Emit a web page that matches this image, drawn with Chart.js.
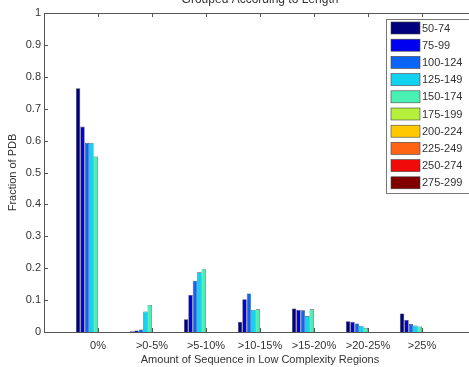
<!DOCTYPE html>
<html>
<head>
<meta charset="utf-8">
<script src="https://cdn.jsdelivr.net/npm/chart.js@4.4.1/dist/chart.umd.min.js"></script>
<style>
  html, body { margin: 0; padding: 0; background: #fff; overflow: hidden; }
  #wrap { position: relative; width: 469px; height: 367px; overflow: hidden; }
</style>
</head>
<body>
<div id="wrap"><canvas id="myChart" width="484" height="367"></canvas></div>
<script>
// categories along x
var categories = ['0%', '>0-5%', '>5-10%', '>10-15%', '>15-20%', '>20-25%', '>25%'];
var lengthGroups = ['50-74', '75-99', '100-124', '125-149', '150-174', '175-199', '200-224', '225-249', '250-274', '275-299'];
var groupColors = ['#00007f', '#0000f0', '#0a64f5', '#12d2f0', '#48f0b4', '#b4f03c', '#ffc800', '#ff6414', '#f00a0a', '#800000'];

// fraction of PDB per length group
var len50 = [0.764, 0.002, 0.040, 0.032, 0.074, 0.034, 0.058];
var len75 = [0.644, 0.005, 0.116, 0.103, 0.069, 0.032, 0.038];
var len100 = [0.593, 0.008, 0.161, 0.121, 0.068, 0.027, 0.025];
var len125 = [0.593, 0.064, 0.187, 0.069, 0.050, 0.019, 0.020];
var len150 = [0.550, 0.085, 0.197, 0.071, 0.071, 0.013, 0.017];
var len175 = [0, 0, 0, 0, 0, 0, 0];
var len200 = [0, 0, 0, 0, 0, 0, 0];
var len225 = [0, 0, 0, 0, 0, 0, 0];
var len250 = [0, 0, 0, 0, 0, 0, 0];
var len275 = [0, 0, 0, 0, 0, 0, 0];
var seriesValues = [len50, len75, len100, len125, len150, len175, len200, len225, len250, len275];

var yTicks = [0, 0.1, 0.2, 0.3, 0.4, 0.5, 0.6, 0.7, 0.8, 0.9, 1];

// empty slot on each side so the axis runs 0..8 like the original
var labels = [''].concat(categories, ['']);

var datasets = seriesValues.map(function(vals, i) {
    return {
        label: lengthGroups[i],
        data: [null].concat(vals, [null]),
        backgroundColor: groupColors[i],
        borderColor: 'rgba(20,20,40,0.8)',
        borderWidth: function(c) { return c.raw ? 0.6 : 0; },
        categoryPercentage: 0.82,
        barPercentage: 1
    };
});

var textColor = '#333';
var fontFamily = '"Liberation Sans", Arial, Helvetica, sans-serif';

var matlabBox = {
    id: 'matlabBox',
    afterDraw: function(chart) {
        var ctx = chart.ctx;
        var a = chart.chartArea;
        var xs = chart.scales.x, ys = chart.scales.y;
        ctx.save();
        ctx.strokeStyle = '#555';
        ctx.lineWidth = 1;
        // top border
        ctx.beginPath();
        ctx.moveTo(a.left, a.top + 0.5);
        ctx.lineTo(a.right, a.top + 0.5);
        ctx.stroke();
        // inward ticks
        ctx.beginPath();
        for (var i = 0; i < labels.length; i++) {
            var px = Math.round(xs.getPixelForValue(i)) + 0.5;
            ctx.moveTo(px, a.top);
            ctx.lineTo(px, a.top + 4);
            ctx.moveTo(px, a.bottom);
            ctx.lineTo(px, a.bottom - 4);
        }
        yTicks.forEach(function(v) {
            var py = Math.round(ys.getPixelForValue(v)) + 0.5;
            ctx.moveTo(a.left, py);
            ctx.lineTo(a.left + 4, py);
        });
        ctx.stroke();

        // title (partly off the top, as in the reference)
        ctx.fillStyle = textColor;
        ctx.textAlign = 'center';
        ctx.textBaseline = 'middle';
        ctx.font = '12px ' + fontFamily;
        ctx.fillText('Grouped According to Length', (a.left + a.right) / 2, 0);

        // axis titles
        ctx.font = '11px ' + fontFamily;
        ctx.fillText('Amount of Sequence in Low Complexity Regions', (a.left + a.right) / 2, 360);
        ctx.translate(13, (a.top + a.bottom) / 2);
        ctx.rotate(-Math.PI / 2);
        ctx.fillText('Fraction of PDB', 0, 0);
        ctx.restore();

        // legend box
        ctx.save();
        var lx = 386, ly = 19, lw = 120, lh = 174;
        ctx.fillStyle = '#fff';
        ctx.fillRect(lx, ly, lw, lh);
        ctx.strokeStyle = '#777';
        ctx.lineWidth = 1;
        ctx.strokeRect(lx + 0.5, ly + 0.5, lw, lh);
        ctx.font = '11px ' + fontFamily;
        ctx.textAlign = 'left';
        ctx.textBaseline = 'middle';
        chart.data.datasets.forEach(function(ds, i) {
            var sy = 22 + i * 17.2;
            ctx.fillStyle = ds.backgroundColor;
            ctx.fillRect(391, sy, 29, 12);
            ctx.strokeStyle = '#444';
            ctx.lineWidth = 0.6;
            ctx.strokeRect(391, sy, 29, 12);
            ctx.fillStyle = textColor;
            ctx.fillText(ds.label, 422, sy + 6.5);
        });
        ctx.restore();
    }
};

var ctx = document.getElementById('myChart');
var myChart = new Chart(ctx, {
    type: 'bar',
    data: {
        labels: labels,
        datasets: datasets
    },
    options: {
        responsive: false,
        animation: false,
        layout: { padding: { left: 0, top: 13, right: 8, bottom: 0 } },
        plugins: {
            legend: { display: false },
            title: { display: false },
            tooltip: { enabled: false }
        },
        scales: {
            x: {
                offset: false,
                grid: { display: false, drawTicks: false, tickLength: 0 },
                border: { display: true, color: '#555' },
                ticks: {
                    autoSkip: false,
                    maxRotation: 0,
                    padding: 7,
                    color: textColor,
                    font: { size: 11, family: fontFamily }
                },
                afterFit: function(s) { s.height = 35; }
            },
            y: {
                min: 0,
                max: 1,
                grid: { display: false, drawTicks: false, tickLength: 0 },
                border: { display: true, color: '#555' },
                afterBuildTicks: function(s) {
                    s.ticks = yTicks.map(function(v) { return { value: v }; });
                },
                ticks: {
                    padding: 3,
                    color: textColor,
                    font: { size: 11, family: fontFamily },
                    callback: function(v) { return String(Math.round(v * 10) / 10); }
                },
                afterFit: function(s) { s.width = 44; }
            }
        }
    },
    plugins: [matlabBox]
});
</script>
</body>
</html>
